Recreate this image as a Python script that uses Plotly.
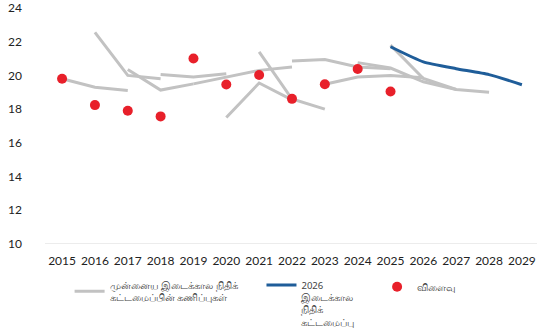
import plotly.graph_objects as go

# Years on the horizontal axis
years = list(range(2015, 2030))

# Earlier medium-term fiscal framework forecasts: (first year, values)
prev_2015 = (2015, [19.8, 19.3, 19.1])
prev_2016 = (2016, [22.55, 20.0, 19.8])
prev_2017 = (2017, [20.35, 19.13, 19.5])
prev_2018 = (2018, [20.05, 19.9, 20.1])
prev_2019 = (2019, [19.5, 19.9, 20.3, 20.5])
prev_2020 = (2020, [17.5, 19.55, 18.55])
prev_2021 = (2021, [21.4, 18.6, 18.0])
prev_2022 = (2022, [20.86, 20.94, 20.5, 20.4])
prev_2023 = (2023, [19.48, 19.9, 20.0, 19.86])
prev_2024 = (2024, [20.76, 20.44, 19.62, 19.17])
prev_2025 = (2025, [21.8, 19.82, 19.17, 19.0])
previous_forecasts = [prev_2015, prev_2016, prev_2017, prev_2018, prev_2019, prev_2020,
                      prev_2021, prev_2022, prev_2023, prev_2024, prev_2025]

# 2026 medium-term fiscal framework
mtff_years = [2025, 2026, 2027, 2028, 2029]
mtff_values = [21.7, 20.8, 20.4, 20.05, 19.45]

# Outturn
outturn_years = list(range(2015, 2026))
outturn_values = [19.8, 18.24, 17.9, 17.57, 21.0, 19.46, 20.03, 18.61, 19.48, 20.38, 19.05]

y_ticks = [10, 12, 14, 16, 18, 20, 22, 24]

GRAY = "#c2c2c2"
BLUE = "#1f5d99"
RED = "#e8202a"
LEGEND_FONT = dict(family="Noto Sans, DejaVu Sans", size=9.5, color="#444444")

fig = go.Figure()

for i, (start, vals) in enumerate(previous_forecasts):
    xs = list(range(start, start + len(vals)))
    fig.add_trace(go.Scatter(
        x=xs, y=vals, mode="lines",
        line=dict(color=GRAY, width=3),
        name="முன்னைய இடைக்கால நிதிக்<br>கட்டமைப்பின் கணிப்புகள்",
        legendgroup="prev", showlegend=(i == 0), legend="legend",
        hoverinfo="skip",
    ))

fig.add_trace(go.Scatter(
    x=mtff_years, y=mtff_values, mode="lines",
    line=dict(color=BLUE, width=3, shape="spline", smoothing=0.5),
    name="2026<br>இடைக்கால<br>நிதிக்<br>கட்டமைப்பு",
    legend="legend2",
))

fig.add_trace(go.Scatter(
    x=outturn_years, y=outturn_values, mode="markers",
    marker=dict(color=RED, size=10),
    name="விளைவு",
    legend="legend3",
))

fig.update_layout(
    width=537, height=334,
    margin=dict(l=45, r=0, t=8, b=90, autoexpand=False),
    plot_bgcolor="white", paper_bgcolor="white",
    font=dict(family="Lato, DejaVu Sans", size=12, color="#222222"),
    xaxis=dict(
        range=[2014.48, 2029.46], tickmode="array", tickvals=years,
        ticktext=[str(y) for y in years], showgrid=False, zeroline=False,
        showline=False, ticks="", ticklabelstandoff=8,
        tickfont=dict(size=12, color="#222222"),
    ),
    yaxis=dict(
        range=[10, 24], tickmode="array", tickvals=y_ticks,
        showgrid=False, zeroline=False, showline=False, ticks="",
        ticklabelstandoff=22, tickfont=dict(size=12, color="#222222"),
    ),
    legend=dict(x=0.05, y=-0.12, xanchor="left", yanchor="top",
                orientation="h", font=LEGEND_FONT, bgcolor="rgba(0,0,0,0)"),
    legend2=dict(x=0.44, y=-0.12, xanchor="left", yanchor="top",
                 orientation="h", font=LEGEND_FONT, bgcolor="rgba(0,0,0,0)",
                 valign="top"),
    legend3=dict(x=0.675, y=-0.12, xanchor="left", yanchor="top",
                 orientation="h", font=LEGEND_FONT, bgcolor="rgba(0,0,0,0)"),
    showlegend=True,
)

# Baseline at 10
fig.add_hline(y=10, line=dict(color="#d9d9d9", width=1), layer="below")

fig.write_html("out.html")
